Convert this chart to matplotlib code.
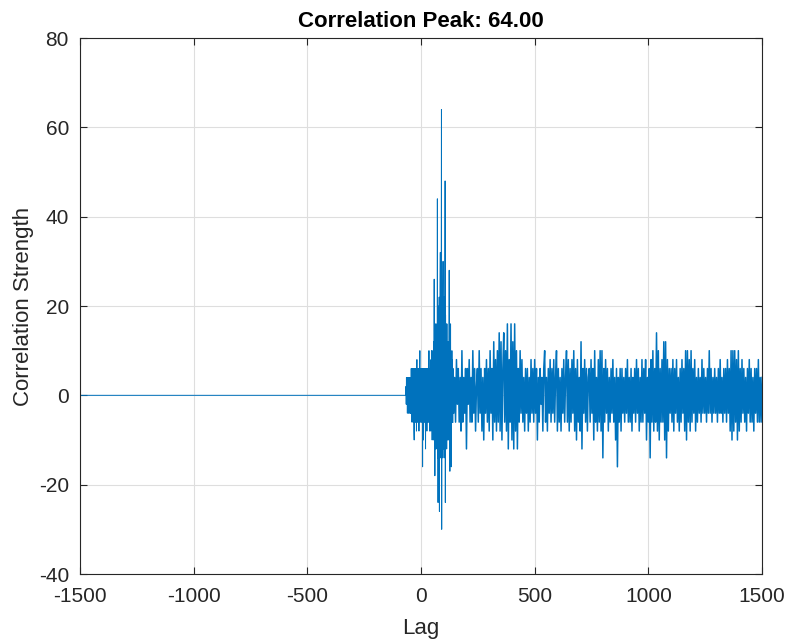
import numpy as np
import matplotlib
matplotlib.use("Agg")
import matplotlib.pyplot as plt

# ---- data ----
# flat (zero) stretch before the signal starts
lead_lags = [-1500, -67]
lead_vals = [0, 0]

# peak region, every lag from -66 to 139
peak_lag_start, peak_lag_stop = -66, 139
peak_vals = [
    2, -2, 4, -2, 2, 4, -4, 2, -2, 4, 2, -4, 4, -2, 2, -4, 4, -2, 2, 4, -4, 2,
    -4, 6, -2, 4, -6, 2, 6, -4, 4, -6,
    2, -4, 6, -8, -10, 4, -2, 6, -6, 2,
    4, -6, 6, -2, -8, 4, 8, -4, 6, -6,
    2, -6, 6, -4, 4, -8, 6, -2, 4, 10,
    -6, 6, -2, 4,
    -6, 4, -6, 6, -4, 2, 6, -16, 4, -6,
    4, -10, 6, -4, 6, -6, 4, 6, -6, -4,
    -12, 6, -4, 6, -4, 6, -8, 4, -6, 6,
    -6, 6, -4, 8, -6, 10, -6, 6, -8, 4,
    6, -6, 6, -8, 8, -6, 10, -6, 8, -10,
    8, -6, 10, -8, 6, -10, 12, -6, 26, -10,
    14, -18, 10, -12, 16, -8, 12, -10, 14, -12,
    16, -10, 44, -14, 18, -24, 16, -12, 20, -14,
    22, -26, 18, -12, 24, 32, -14, 22, -10, 20,
    64, -30, 22, -12, 24, -14, 20, 30, -12, 18,
    -10, 22, -14, 20, -12, 16, 48, -24, 18, -12,
    16, -10, 14, -12, 16, -8, 12, -10, 10, -8,
    12, -10, 10, -8, 28, -10, 8, -17, 10, -8,
    16, -8, 6, -16, 8, -6, 10, -6, 8, -6,
]

# tail region, sampled every 4 lags from 140 to 1500
tail_lag_start, tail_lag_stop, tail_lag_step = 140, 1500, 4
tail_vals = [
    6, -4, 4, -6, 8, -2, 6, -6, 4, -8,
    10, -6, 4, -4, 6, -12, 6, -2, 8, -6,
    4, -6, 10, -4, 6, -8, 2, 6, -6, 10,
    -4, 6, -8, 4, -10, 6, -4, 8, -6, 6,
    -8, 10, -4, 6, -10, 12, -6, 8, -8, 10,
    -6, 14, -8, 12, -10, 6, 14, -6, 10, -8,
    16, -12, 8, -6, 16, -10, 12, -12, 16, -8,
    10, -12, 6, -6, 10, -4, 8, -6, 4, -8,
    6, -4, 6, -8, 4, -6, 8, -4, 6, -6,
    8, -4, 6, -10, 4, -6, 6, -2, 4, -8,
    6, 10, -6, 4, -8, 6, -4, 8, -6, 6,
    -4, 8, -6, 4, 10, -8, 6, -6, 4, -8,
    6, -4, 8, -6, 4, 10, -6, 8, -8, 6,
    -6, 8, -4, 10, -8, 6, -10, 8, -6, 4,
    -8, 12, -12, 6, -4, 8, -6, 6, -8, 4,
    6, -6, 8, -4, 6, -10, 10, -6, 4, -8,
    8, -6, 10, -8, 10, -14, 6, -6, 8, -4,
    6, -8, 4, -6, 6, -4, 8, -6, 4, -10,
    6, -16, 4, -6, 6, -8, 6, -4, 4, -6,
    6, -4, 8, -6, 4, -6, 6, -8, 4, -4,
    6, -6, 8, -4, 6, -8, 4, -6, 8, -6,
    6, -4, 8, -10, 4, -6, 6, -14, 8, -6,
    10, -8, 6, -6, 14, -8, 10, -10, 6, -6,
    8, -6, 12, -10, 12, -14, 8, -8, 6, -4,
    6, -6, 8, -8, 6, -4, 8, -6, 4, -8,
    6, -6, 8, -4, 6, -8, 10, -10, 10, -6,
    8, -8, 10, -6, 6, -4, 8, -8, 4, -6,
    6, -4, 4, -6, 8, -4, 6, -4, 4, -6,
    6, -4, 10, -4, 6, -6, 4, -4, 6, -4,
    4, -6, 6, -4, 8, -4, 4, -6, 6, -4,
    6, -6, 8, -4, 6, -8, 10, -10, 10, -8,
    10, -6, 8, -10, 10, -8, 6, -6, 8, -4,
    6, -6, 4, -8, 6, -4, 8, -6, 6, -6,
    4, -8, 6, -4, 6, -6, 8, -6, 4, -6,
    4,
]

x_ticks = [-1500, -1000, -500, 0, 500, 1000, 1500]
y_ticks = [-40, -20, 0, 20, 40, 60, 80]
title_text = "Correlation Peak: 64.00"
x_label = "Lag"
y_label = "Correlation Strength"

# ---- assemble ----
lead_x = np.array(lead_lags)
peak_x = np.arange(peak_lag_start, peak_lag_stop + 1)
tail_x = np.arange(tail_lag_start, tail_lag_stop + 1, tail_lag_step)

plt.rcParams['font.family'] = ['Liberation Sans', 'DejaVu Sans']

fig = plt.figure(figsize=(7.87, 6.39), dpi=100)
ax = fig.add_axes([80 / 787, 1 - 574 / 639, (762 - 80) / 787, (574 - 38) / 639])

line_color = '#0072BD'
ax.plot(np.concatenate([lead_x, peak_x]),
        np.concatenate([np.array(lead_vals), np.array(peak_vals)]),
        color=line_color, linewidth=0.7)
ax.plot(np.concatenate([peak_x[-1:], tail_x]),
        np.concatenate([np.array(peak_vals[-1:]), np.array(tail_vals)]),
        color=line_color, linewidth=1.1)

ax.set_xlim(-1500, 1500)
ax.set_ylim(-40, 80)
ax.set_xticks(x_ticks)
ax.set_yticks(y_ticks)
ax.set_xticklabels([str(t) for t in x_ticks])
ax.set_yticklabels([str(t) for t in y_ticks])

ax.grid(True, color='#dedede', linewidth=0.8)
ax.set_axisbelow(True)
for s in ax.spines.values():
    s.set_color('#262626')
    s.set_linewidth(0.8)
ax.tick_params(direction='in', length=5, width=0.8, colors='#262626',
               labelsize=15, top=True, right=True, labeltop=False, labelright=False)
ax.tick_params(axis='x', pad=9)
ax.tick_params(axis='y', pad=8)

ax.set_title(title_text, fontsize=16, fontweight='bold', pad=8, color='black')
ax.set_xlabel(x_label, fontsize=16, color='#262626', labelpad=9)
ax.set_ylabel(y_label, fontsize=16, color='#262626', labelpad=3)

fig.savefig('out.png', dpi=100)
